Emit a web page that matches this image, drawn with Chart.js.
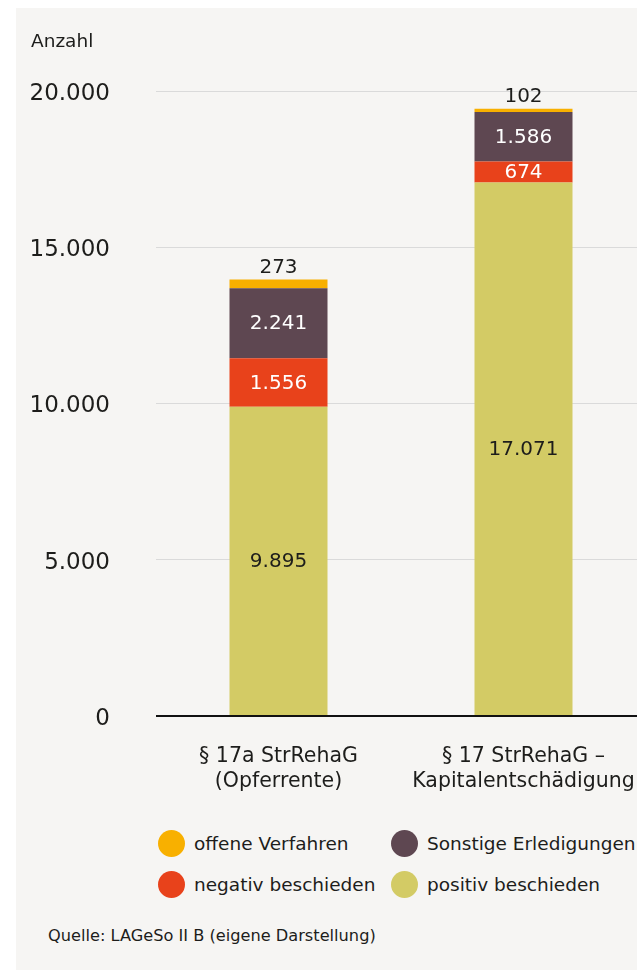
<!DOCTYPE html>
<html lang="de">
<head>
<meta charset="utf-8">
<title>Anträge StrRehaG</title>
<script src="https://cdn.jsdelivr.net/npm/chart.js@4.4.1/dist/chart.umd.min.js"></script>
<style>
    html, body { margin: 0; padding: 0; background: #ffffff; overflow: hidden; }
    body { width: 637px; height: 973px; position: relative; font-family: "DejaVu Sans", sans-serif; color: #1d1d1b; }
    #panel { position: absolute; left: 16px; top: 8px; width: 640px; height: 962px; background: #f6f5f3; }
    #chart { position: absolute; left: 0; top: 0; }
    .txt { position: absolute; white-space: nowrap; }
    #unit { left: 31px; top: 30px; font-size: 18.5px; }
    #source { left: 48px; top: 926px; font-size: 16.2px; }
    .legend-item { position: absolute; height: 28px; display: flex; align-items: center; font-size: 18.5px; white-space: nowrap; }
    .legend-item span.dot { width: 27px; height: 27px; border-radius: 50%; margin-right: 9px; flex: none; }
</style>
</head>
<body>
<div id="panel"></div>
<canvas id="chart" width="646" height="810"></canvas>
<div class="txt" id="unit">Anzahl</div>
<div id="legend"></div>
<div class="txt" id="source">Quelle: LAGeSo II B (eigene Darstellung)</div>

<script>
// --- Data ---
const categories = [['§ 17a StrRehaG', '(Opferrente)'], ['§ 17 StrRehaG –', 'Kapitalentschädigung']];
const positiv = [9895, 17071];
const negativ = [1556, 674];
const sonstige = [2241, 1586];
const offen = [273, 102];
const yTicks = [0, 5000, 10000, 15000, 20000];

const COLORS = {
    offen: '#f8b000',
    sonstige: '#5e4751',
    negativ: '#e8421b',
    positiv: '#d3cb65'
};
const TEXT = '#1d1d1b';
const FONT = '"DejaVu Sans", sans-serif';

function fmt(v) {
    return String(v).replace(/\B(?=(\d{3})+(?!\d))/g, '.');
}

// labels inside / above the stacked segments
const segmentLabels = {
    id: 'segmentLabels',
    afterDatasetsDraw(chart) {
        const ctx = chart.ctx;
        chart.data.datasets.forEach((ds, i) => {
            const meta = chart.getDatasetMeta(i);
            meta.data.forEach((bar, j) => {
                const v = ds.data[j];
                ctx.save();
                ctx.font = '20px ' + FONT;
                ctx.textAlign = 'center';
                ctx.fillStyle = ds.labelColor;
                if (ds.labelOutside) {
                    ctx.textBaseline = 'bottom';
                    ctx.fillText(fmt(v), bar.x, bar.y - 2);
                } else {
                    ctx.textBaseline = 'middle';
                    ctx.fillText(fmt(v), bar.x, (bar.y + bar.base) / 2 + 1);
                }
                ctx.restore();
            });
        });
    }
};

const datasets = [
    { label: 'positiv beschieden', data: positiv, backgroundColor: COLORS.positiv, labelColor: TEXT },
    { label: 'negativ beschieden', data: negativ, backgroundColor: COLORS.negativ, labelColor: '#ffffff' },
    { label: 'Sonstige Erledigungen', data: sonstige, backgroundColor: COLORS.sonstige, labelColor: '#ffffff' },
    { label: 'offene Verfahren', data: offen, backgroundColor: COLORS.offen, labelColor: TEXT, labelOutside: true }
];
datasets.forEach(ds => {
    ds.barPercentage = 0.4;
    ds.categoryPercentage = 1;
    ds.borderWidth = 0;
});

new Chart(document.getElementById('chart'), {
    type: 'bar',
    data: { labels: categories, datasets: datasets },
    options: {
        responsive: false,
        animation: false,
        layout: { padding: { top: 91, left: 0, right: 0, bottom: 0 } },
        plugins: {
            legend: { display: false },
            tooltip: { enabled: false }
        },
        scales: {
            x: {
                stacked: true,
                grid: { display: false },
                border: { display: false },
                ticks: {
                    color: TEXT,
                    font: { family: FONT, size: 20.5, lineHeight: 1.22 },
                    padding: 20
                },
                afterFit: scale => {
                    scale.height = 94;
                    scale.paddingLeft = 0;
                    scale.paddingRight = 0;
                }
            },
            y: {
                stacked: true,
                min: 0,
                max: 20000,
                afterBuildTicks: scale => { scale.ticks = yTicks.map(v => ({ value: v })); },
                grid: {
                    drawTicks: false,
                    color: c => c.tick && c.tick.value === 0 ? '#111111' : '#dadada',
                    lineWidth: c => c.tick && c.tick.value === 0 ? 2 : 1
                },
                border: { display: false },
                ticks: {
                    color: TEXT,
                    font: { family: FONT, size: 23 },
                    padding: 46,
                    labelOffset: 3,
                    callback: v => fmt(v)
                },
                afterFit: scale => { scale.width = 156; }
            }
        }
    },
    plugins: [segmentLabels]
});

// --- HTML legend, 2x2 grid ---
const legendItems = [
    { label: 'offene Verfahren', color: COLORS.offen, x: 158, y: 829 },
    { label: 'Sonstige Erledigungen', color: COLORS.sonstige, x: 391, y: 829 },
    { label: 'negativ beschieden', color: COLORS.negativ, x: 158, y: 870 },
    { label: 'positiv beschieden', color: COLORS.positiv, x: 391, y: 870 }
];
const legendEl = document.getElementById('legend');
legendItems.forEach(item => {
    const div = document.createElement('div');
    div.className = 'legend-item';
    div.style.left = item.x + 'px';
    div.style.top = item.y + 'px';
    div.innerHTML = '<span class="dot" style="background:' + item.color + '"></span>' + item.label;
    legendEl.appendChild(div);
});
</script>
</body>
</html>
